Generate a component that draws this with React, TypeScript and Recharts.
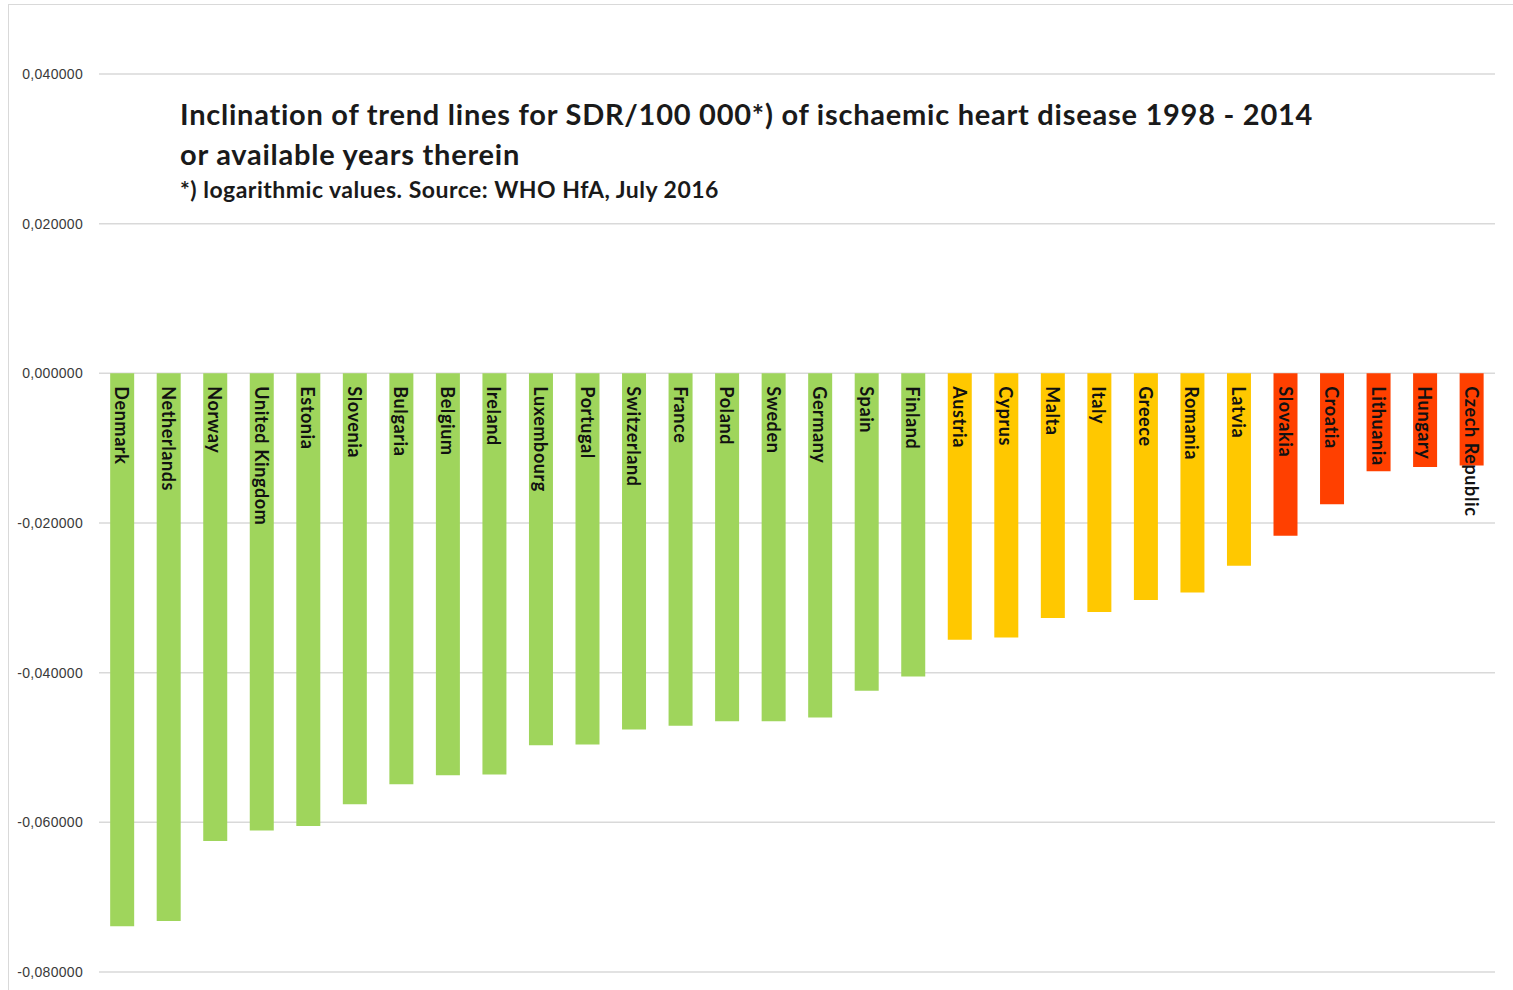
import React from "react";
import { BarChart, Bar, XAxis, YAxis, CartesianGrid, Cell, LabelList } from "recharts";

const countries = [
  "Denmark", "Netherlands", "Norway", "United Kingdom", "Estonia", "Slovenia", "Bulgaria", "Belgium",
  "Ireland", "Luxembourg", "Portugal", "Switzerland", "France", "Poland", "Sweden", "Germany",
  "Spain", "Finland", "Austria", "Cyprus", "Malta", "Italy", "Greece", "Romania", "Latvia",
  "Slovakia", "Croatia", "Lithuania", "Hungary", "Czech Republic",
];

const slopes = [
  -0.0739, -0.0732, -0.0625, -0.0611, -0.0605, -0.0576, -0.0549, -0.0537,
  -0.0536, -0.0497, -0.0496, -0.0476, -0.0471, -0.0465, -0.0465, -0.0460,
  -0.0424, -0.0405, -0.0356, -0.0353, -0.0327, -0.0319, -0.0303, -0.0293, -0.0257,
  -0.0217, -0.0175, -0.0131, -0.0125, -0.0123,
];

const groups = [
  "g", "g", "g", "g", "g", "g", "g", "g", "g", "g", "g", "g", "g", "g", "g", "g", "g", "g",
  "y", "y", "y", "y", "y", "y", "y",
  "r", "r", "r", "r", "r",
];

const yTicks = [-0.08, -0.06, -0.04, -0.02, 0, 0.02, 0.04];

const titleLines = [
  "Inclination of trend lines for SDR/100 000*) of ischaemic heart disease 1998 - 2014",
  "or available years therein",
];
const subtitle = "*) logarithmic values. Source: WHO HfA, July 2016";

const groupColors: Record<string, string> = { g: "#9fd55c", y: "#ffc800", r: "#ff4000" };

const data = countries.map((c, i) => ({ country: c, value: slopes[i], group: groups[i] }));

const fmt = (v: number) => {
  const s = Math.abs(v).toFixed(6).replace(".", ",");
  return (v < 0 ? "-" : "") + s;
};

const BarLabel = (props: any) => {
  const { x, y, width, height, value } = props;
  const top = Math.min(y, y + height);
  const cx = x + width / 2;
  const ty = top + 13;
  return (
    <text
      x={cx}
      y={ty}
      transform={`rotate(90, ${cx}, ${ty})`}
      textAnchor="start"
      dominantBaseline="central"
      fontFamily="Lato, 'Open Sans', sans-serif"
      fontWeight={700}
      fontSize={18}
      letterSpacing={0.6}
      fill="#111"
    >
      {value}
    </text>
  );
};

export default function App() {
  const font = "Lato, 'Open Sans', sans-serif";
  const lineStyle: React.CSSProperties = {
    position: "absolute",
    left: 180,
    fontFamily: font,
    fontWeight: 700,
    color: "#1a1a1a",
    pointerEvents: "none",
    whiteSpace: "nowrap",
  };
  return (
    <div style={{ position: "absolute", left: 0, top: 0, width: 1513, height: 990, background: "#fff", overflow: "hidden" }}>
      <div
        style={{
          position: "absolute",
          left: 8,
          top: 4,
          width: 1520,
          height: 1000,
          border: "1px solid #d9d9d9",
          boxSizing: "border-box",
        }}
      />
      <BarChart
        width={1513}
        height={990}
        data={data}
        margin={{ top: 74, right: 18, bottom: 18, left: 0 }}
        barCategoryGap="24%"
      >
        <CartesianGrid horizontal vertical={false} stroke="#d9d9d9" strokeWidth={1.5} />
        <XAxis dataKey="country" hide />
        <YAxis
          width={99}
          domain={[-0.08, 0.04]}
          ticks={yTicks}
          tickFormatter={fmt}
          axisLine={false}
          tickLine={false}
          tickSize={0}
          tickMargin={16}
          interval={0}
          tick={{ fontSize: 14, fill: "#3a3a3a", fontFamily: "'Liberation Sans', Arial, sans-serif", letterSpacing: 0.3 }}
        />
        <Bar dataKey="value" isAnimationActive={false}>
          {data.map((d, i) => (
            <Cell key={i} fill={groupColors[d.group]} />
          ))}
          <LabelList dataKey="country" content={BarLabel} />
        </Bar>
      </BarChart>
      <div style={{ ...lineStyle, top: 94, fontSize: 29, lineHeight: "40px", letterSpacing: 0.75 }}>{titleLines[0]}</div>
      <div style={{ ...lineStyle, top: 134, fontSize: 29, lineHeight: "40px", letterSpacing: 0.75 }}>{titleLines[1]}</div>
      <div style={{ ...lineStyle, top: 173, fontSize: 23, lineHeight: "32px", letterSpacing: 0.5 }}>{subtitle}</div>
    </div>
  );
}
